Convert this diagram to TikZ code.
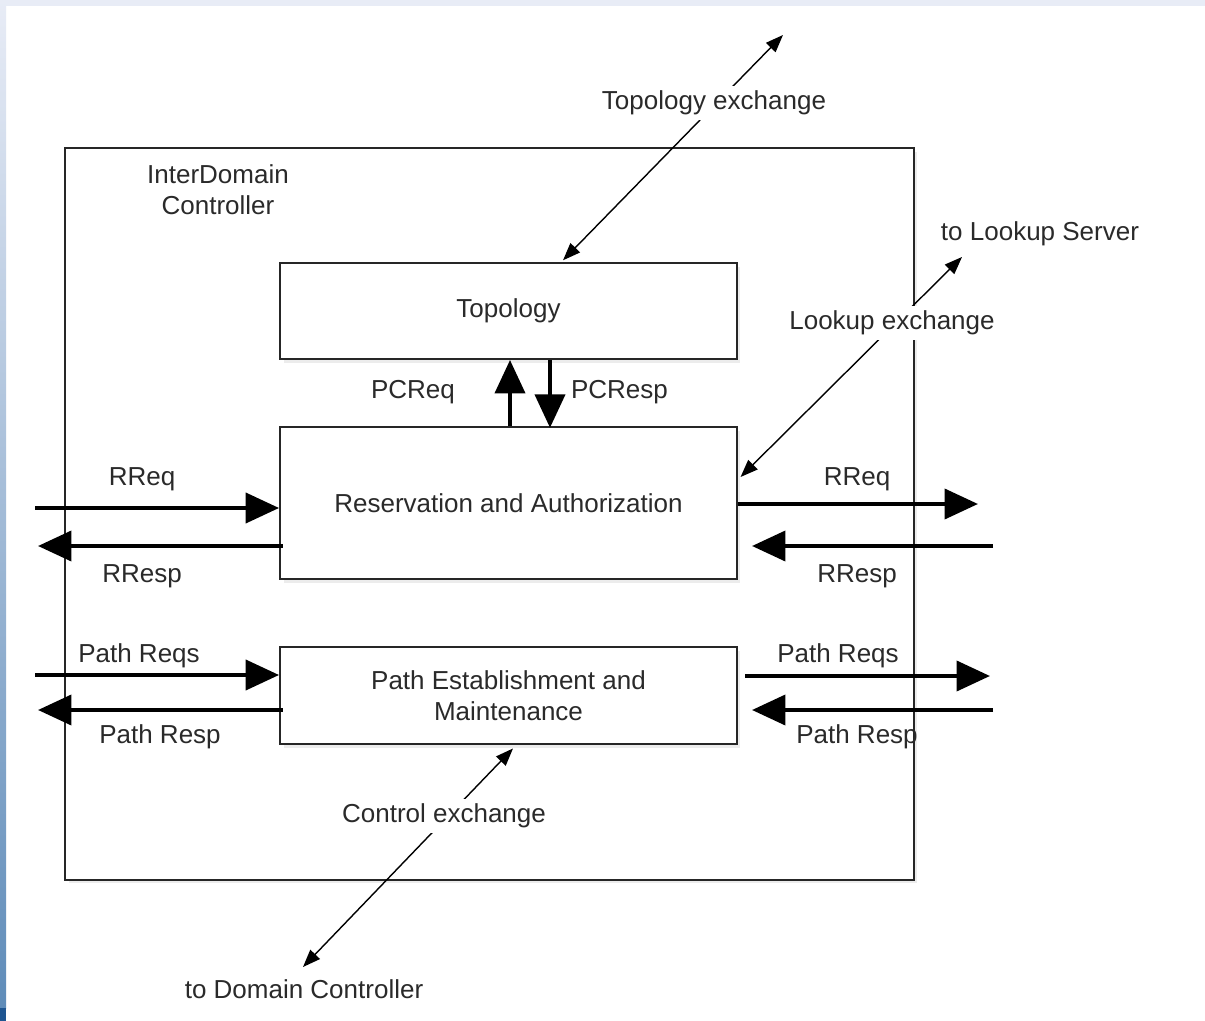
\documentclass[tikz,border=0pt]{standalone}
\usepackage{fontspec}
\setmainfont{Liberation Sans}
\usetikzlibrary{arrows.meta,shadows}
\definecolor{txt}{HTML}{2A2A2A}
\definecolor{topstrip}{HTML}{E8ECF6}
\definecolor{sidebot}{RGB}{95,140,185}
\definecolor{sidedark}{RGB}{30,85,145}
\begin{document}
\begin{tikzpicture}[x=0.02cm,y=-0.02cm,
 lbl/.style={font=\fontsize{14.8}{17.6}\selectfont, text=txt, inner sep=1pt, align=center},
 box/.style={draw=black!85, line width=1.1pt, fill=white, lbl,
   drop shadow={opacity=0.15, shadow xshift=2pt, shadow yshift=-2pt}},
 thickarr/.style={line width=2.4pt, -{Triangle[length=19pt,width=17pt]}},
 thinarr/.style={line width=0.8pt, {Triangle[length=10pt,width=7.5pt]}-{Triangle[length=10pt,width=7.5pt]}},
 xlbl/.style={lbl, fill=white, inner sep=3pt}]
\useasboundingbox (0,0) rectangle (1205,1021);
\fill[white] (0,0) rectangle (1205,1021);
\fill[topstrip] (0,0) rectangle (1205,6);
\shade[top color=topstrip, bottom color=sidebot] (0,0) rectangle (6,1008);
\fill[sidedark] (0,1008) rectangle (6,1021);

% boxes
\node[box, minimum width=16.98cm, minimum height=14.64cm] (idc) at (489.5,514) {};
\node[lbl] (idclbl) at (218,190) {InterDomain\\Controller};
\node[box, minimum width=9.14cm, minimum height=1.92cm] (topo) at (508.5,311) {Topology};
\node[box, minimum width=9.14cm, minimum height=3.04cm] (res) at (508.5,503) {Reservation and Authorization};
\node[box, minimum width=9.14cm, minimum height=1.94cm] (path) at (508.5,695.5) {Path Establishment and\\Maintenance};

% PC arrows
\coordinate (pcq) at (510,0);
\coordinate (pcr) at (550,0);
\draw[thickarr] (res.north -| pcq) -- (topo.south -| pcq);
\draw[thickarr] (topo.south -| pcr) -- ([yshift=-1pt]res.north -| pcr);
\node[lbl] (pcreq) at (413,392) {PCReq};
\node[lbl] (pcresp) at (619.5,392) {PCResp};

% left arrows
\coordinate (lrq) at (35,508);
\coordinate (lrs) at (38,546);
\coordinate (lpq) at (35,675);
\coordinate (lps) at (38,710);
\draw[thickarr] (lrq) -- (res.west |- lrq);
\draw[thickarr] ([xshift=2pt]res.west |- lrs) -- (lrs);
\draw[thickarr] (lpq) -- (path.west |- lpq);
\draw[thickarr] ([xshift=2pt]path.west |- lps) -- (lps);
\node[lbl] (lrqlbl) at (142,479) {RReq};
\node[lbl] (lrslbl) at (142,576) {RResp};
\node[lbl] (lpqlbl) at (139,656) {Path Reqs};
\node[lbl] (lpslbl) at (160,737) {Path Resp};

% right arrows
\coordinate (rrq) at (978,504);
\coordinate (rrs) at (993,546);
\coordinate (rpq) at (990,676);
\coordinate (rps) at (993,710);
\coordinate (rrsend) at (752,546);
\coordinate (rpqst) at (745,676);
\coordinate (rpsend) at (752,710);
\draw[thickarr] (res.east |- rrq) -- (rrq);
\draw[thickarr] (rrs) -- (rrsend);
\draw[thickarr] (rpqst) -- (rpq);
\draw[thickarr] (rps) -- (rpsend);
\node[lbl] (rrqlbl) at (857,479) {RReq};
\node[lbl] (rrslbl) at (857,576) {RResp};
\node[lbl] (rpqlbl) at (838,656) {Path Reqs};
\node[lbl] (rpslbl) at (857,737) {Path Resp};

% topology exchange
\coordinate (tx) at (563,0);
\coordinate (tout) at (783,35);
\draw[thinarr] ([yshift=1pt]topo.north -| tx) -- (tout);
\node[xlbl] (txlbl) at (714,103) {Topology exchange};

% lookup exchange
\coordinate (lk) at (0,477);
\coordinate (lkout) at (962,257);
\draw[thinarr] ([xshift=1.5pt]res.east |- lk) -- (lkout);
\node[xlbl] (lklbl) at (892,323) {Lookup exchange};
\node[lbl] (lsrv) at (1040,234) {to Lookup Server};

% control exchange
\coordinate (cx) at (513,0);
\coordinate (cout) at (303,967);
\draw[thinarr] ([yshift=-2pt]path.south -| cx) -- (cout);
\node[xlbl] (cxlbl) at (444,816) {Control exchange};
\node[lbl] (dc) at (304,989) {to Domain Controller};
\end{tikzpicture}
\end{document}
